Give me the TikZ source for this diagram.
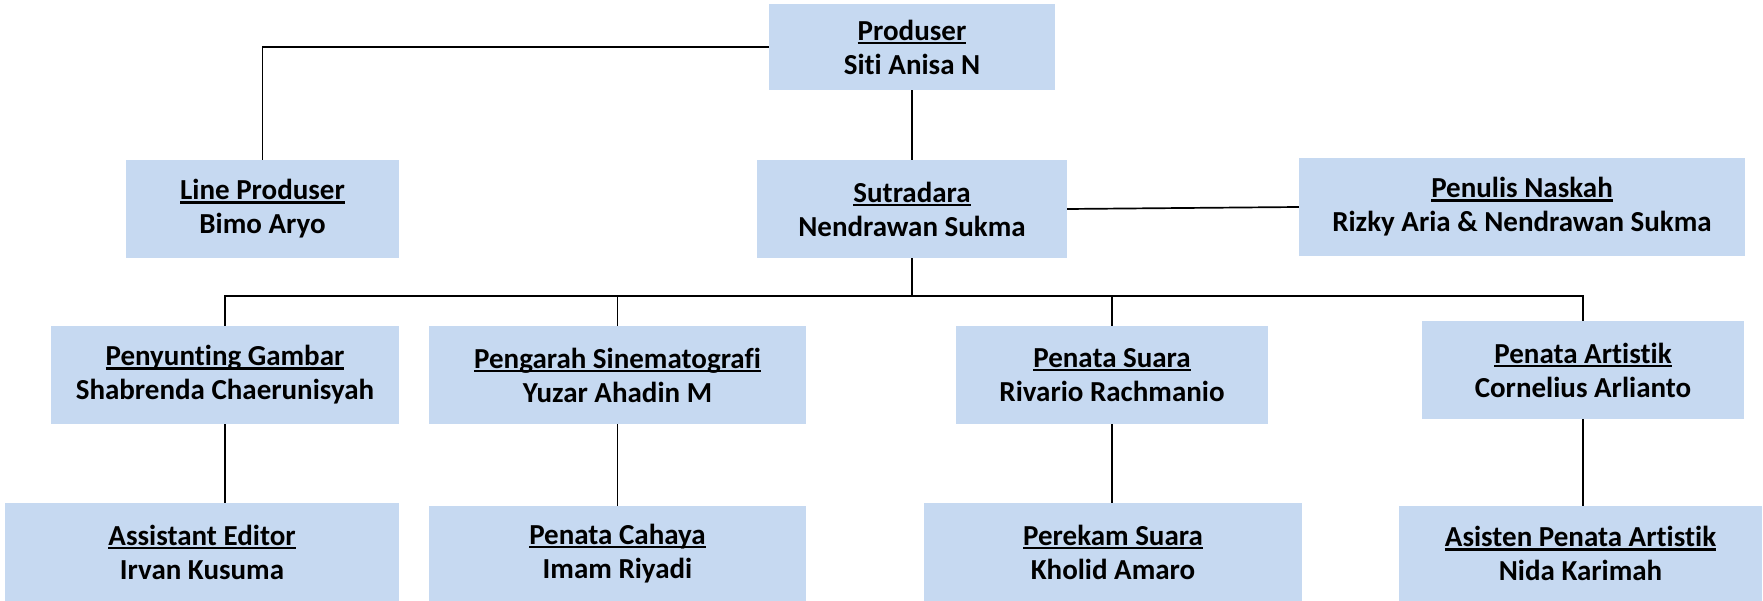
\documentclass[tikz,border=0pt]{standalone}
\usepackage{fontspec}
\setmainfont{Carlito}[Ligatures=NoCommon]
\definecolor{kotak}{RGB}{198,217,241}
% judul jabatan dengan garis bawah tebal
\newcommand{\garis}[1]{\setbox0=\hbox{#1}\rlap{\rule[-4pt]{\wd0}{2.4pt}}\box0}
\tikzset{jabatan/.style={fill=kotak, inner sep=0pt, align=center, minimum height=98pt,
    font=\fontsize{29}{34}\selectfont\bfseries},
  garisan/.style={line width=1.7pt}}

\begin{document}
\begin{tikzpicture}[x=1pt,y=-1pt]
    \useasboundingbox (0,0) rectangle (1763,601);
    % baris atas
    \node [jabatan, minimum width=286pt, minimum height=86pt] (prod) at (912,47) {\garis{Produser}\\Siti Anisa N};
    \node [jabatan, minimum width=273pt] (lineprod) at (262.5,209) {\garis{Line Produser}\\Bimo Aryo};
    \node [jabatan, minimum width=310pt] (sut) at (912,209) {\garis{Sutradara}\\Nendrawan Sukma};
    \node [jabatan, minimum width=446pt] (penulis) at (1522,207) {\garis{Penulis Naskah}\\Rizky Aria \& Nendrawan Sukma};
    % baris tengah
    \node [jabatan, minimum width=348pt] (editor) at (225,375) {\garis{Penyunting Gambar}\\Shabrenda Chaerunisyah};
    \node [jabatan, minimum width=377pt] (dop) at (617.5,375) {\garis{Pengarah Sinematografi}\\Yuzar Ahadin M};
    \node [jabatan, minimum width=312pt] (suara) at (1112,375) {\garis{Penata Suara}\\Rivario Rachmanio};
    \node [jabatan, minimum width=322pt] (artistik) at (1583,370) {\garis{Penata Artistik}\\Cornelius Arlianto};
    % baris bawah
    \node [jabatan, minimum width=394pt] (asedit) at (202,552) {\garis{Assistant Editor}\\Irvan Kusuma};
    \node [jabatan, minimum width=377pt, minimum height=95pt] (cahaya) at (617.5,553.5) {\garis{Penata Cahaya}\\Imam Riyadi};
    \node [jabatan, minimum width=378pt] (perekam) at (1113,552) {\garis{Perekam Suara}\\Kholid Amaro};
    \node [jabatan, minimum width=363pt, minimum height=95pt] (asart) at (1580.5,553.5) {\garis{Asisten Penata Artistik}\\Nida Karimah};

    \coordinate (busL) at (225,296);
    \coordinate (busR) at (1583,296);

    \draw [garisan] (prod.west) -| (lineprod.north);
    \draw [garisan] (prod.south) -- (sut.north);
    \draw [garisan] (sut.east) -- (penulis.west);
    \draw [garisan] (sut.south) -- (sut.south |- busL);
    \draw [garisan] (editor.north) -- (busL) -- (busR) -- (artistik.north);
    \draw [garisan] (dop.north) -- (dop.north |- busL);
    \draw [garisan] (suara.north) -- (suara.north |- busL);
    \draw [garisan] (editor.south) -- (editor.south |- asedit.north);
    \draw [garisan] (dop.south) -- (dop.south |- cahaya.north);
    \draw [garisan] (suara.south) -- (suara.south |- perekam.north);
    \draw [garisan] (artistik.south) -- (artistik.south |- asart.north);
\end{tikzpicture}
\end{document}
